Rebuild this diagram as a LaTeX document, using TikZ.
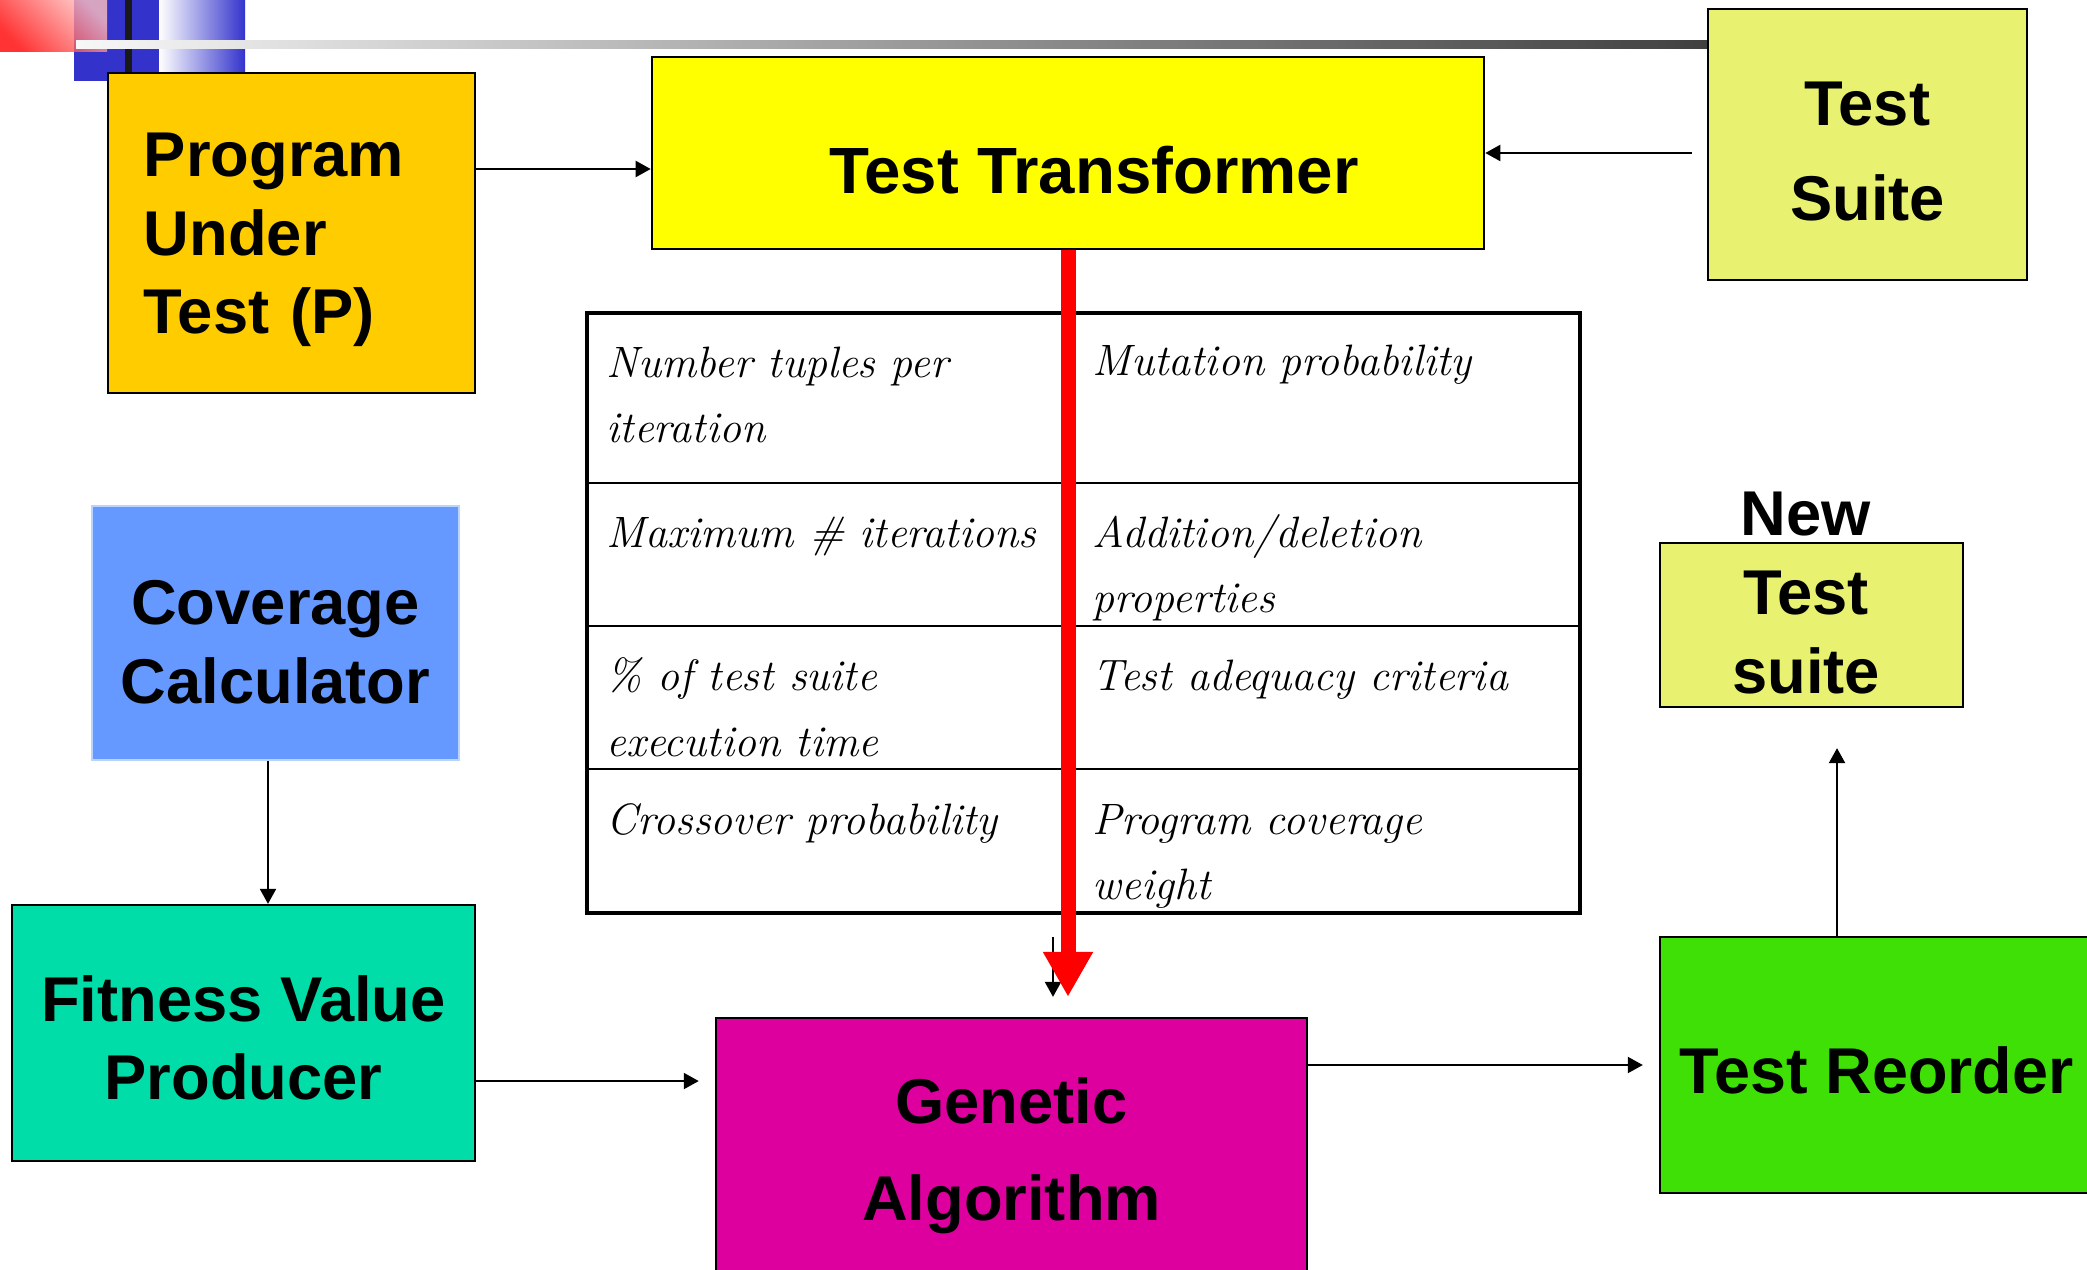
\documentclass[tikz,border=0pt]{standalone}
\usepackage{fontspec}
\newfontfamily\boxfont{Liberation Sans}
\usetikzlibrary{arrows.meta}
\definecolor{putcol}{HTML}{FFCC00}
\definecolor{ttcol}{HTML}{FFFF00}
\definecolor{tscol}{HTML}{E8F270}
\definecolor{covcol}{HTML}{6699FF}
\definecolor{covedge}{HTML}{B8D4FF}
\definecolor{fitcol}{HTML}{00DDA8}
\definecolor{gacol}{HTML}{DD009E}
\definecolor{trcol}{HTML}{3FE005}
\definecolor{decblue}{HTML}{3333CC}

\begin{document}
\begin{tikzpicture}[x=0.01cm,y=-0.01cm,
  box/.style={draw=black,line width=0.6pt,inner sep=0pt},
  lbl/.style={inner sep=0pt,align=center,font=\boxfont\bfseries\fontsize{18}{22.3}\selectfont},
  arr/.style={line width=0.6pt,-{Triangle[width=0.16cm,length=0.15cm]}},
  cell/.style={anchor=base west,inner sep=0pt,font=\itshape\fontsize{12.5}{15}\selectfont}]
  \useasboundingbox (0,0) rectangle (2087,1270);
  \clip (0,0) rectangle (2087,1270);
  \shade[left color=white,right color=decblue] (159,0) rectangle (245,72);
  \fill[decblue] (74,0) rectangle (159,81);
  \fill[black!90] (125,0) rectangle (132,72);
  \shade[top color=red!25,bottom color=red,shading angle=-45,opacity=0.8]
    (0,0) rectangle (107,52);
  \shade[left color=black!3,right color=black!75] (76,41) rectangle (1708,49);

  \node[box,fill=putcol,minimum width=3.67cm,minimum height=3.2cm] (put) at (291.5,233) {};
  \node[box,fill=ttcol,minimum width=8.32cm,minimum height=1.92cm] (tt) at (1068,153) {};
  \node[box,fill=tscol,minimum width=3.19cm,minimum height=2.71cm] (ts) at (1867.5,144.5) {};
  \node[box,fill=covcol,draw=covedge,minimum width=3.67cm,minimum height=2.54cm] (cov) at (275.5,633) {};
  \node[box,fill=fitcol,minimum width=4.63cm,minimum height=2.56cm] (fit) at (243.5,1033) {};
  \node[box,fill=gacol,minimum width=5.91cm,minimum height=2.64cm] (ga) at (1011.5,1150) {};
  \node[box,fill=trcol,minimum width=4.33cm,minimum height=2.56cm] (tr) at (1876.5,1065) {};
  \node[box,fill=tscol,minimum width=3.03cm,minimum height=1.64cm] (nts) at (1811.5,625) {};

  \node[lbl,align=left,text width=2.95cm] (putlabel) at (291.5,240) {Program\\Under\\Test (P)};
  \node[lbl,font=\boxfont\bfseries\fontsize{18.6}{22.3}\selectfont] (ttlabel) at (1094,170) {Test Transformer};
  \node[lbl,font=\boxfont\bfseries\fontsize{18}{27.2}\selectfont] (tslabel) at (1867.5,151.5) {Test\\Suite};
  \node[lbl] (covlabel) at (275.5,642) {Coverage\\Calculator};
  \node[lbl] (fitlabel) at (243.5,1038) {Fitness Value\\Producer};
  \node[lbl,font=\boxfont\bfseries\fontsize{18}{27.5}\selectfont] (galabel) at (1011.5,1156) {Genetic\\Algorithm};
  \node[lbl,font=\boxfont\bfseries\fontsize{18.4}{22.3}\selectfont] (trlabel) at (1876.5,1070) {Test Reorder};
  \node[lbl,font=\boxfont\bfseries\fontsize{18}{22.4}\selectfont] (ntslabel) at (1806,593) {New\\Test\\suite};

  \draw[line width=1.2pt] (587,313) rectangle (1580,913);
  \foreach \y in {483,626,769}
    \draw[line width=0.8pt] (587,\y) -- (1580,\y);
  \draw[line width=0.8pt] (1067,313) -- (1067,913);
  \foreach \nm/\x/\y/\txt in {a1/606/378/{Number tuples per},a2/606/443/iteration,
      b1/1092/376/{Mutation probability},
      c1/606/548/{Maximum \# iterations},d1/1092/548/{Addition/deletion},d2/1092/613/properties,
      e1/606/691/{\% of test suite},e2/606/756/{execution time},f1/1092/691/{Test adequacy criteria},
      g1/606/834/{Crossover probability},h1/1092/834/{Program coverage},h2/1092/899/weight}
    \node[cell] (\nm) at (\x,\y) {\txt};

  \draw[arr] ([yshift=-0.16cm]tt.west -| put.east) -- ([yshift=-0.16cm]tt.west);
  \draw[arr] ([xshift=-0.15cm]ts.west |- tt.east) -- (tt.east);
  \draw[arr] ([xshift=-0.075cm]cov.south) -- ([xshift=-0.075cm]cov.south |- fit.north);
  \coordinate (fitout) at ([yshift=-0.48cm]fit.east);
  \draw[arr] (fitout) -- ([xshift=-0.16cm]fitout -| ga.west);
  \draw[arr] (ga.east |- tr.west) -- ([xshift=-0.16cm]tr.west);
  \draw[arr] ([xshift=0.255cm]nts.south |- tr.north) -- ([xshift=0.255cm,yshift=-0.4cm]nts.south);
  \coordinate (smtop) at ([xshift=-0.15cm,yshift=0.8cm]tt.south |- ga.north);
  \coordinate (smend) at ([xshift=-0.15cm,yshift=0.2cm]tt.south |- ga.north);
  \draw[arr] (smtop) -- (smend);
  \draw[red,line width=0.15cm,-{Triangle[width=0.47cm,length=0.45cm]}]
    (tt.south) -- ([yshift=0.2cm]tt.south |- ga.north);
\end{tikzpicture}
\end{document}
